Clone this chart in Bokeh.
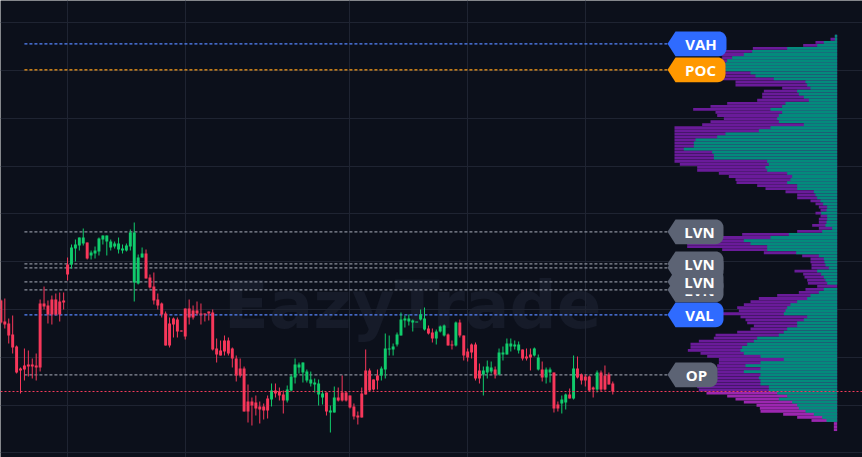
import numpy as np
from bokeh.plotting import figure
from bokeh.models import Range1d, FixedTicker, Span
from bokeh.core.properties import value
from bokeh.embed import file_html
from bokeh.resources import INLINE

W, H = 862, 457

# ---------------- data ----------------
open_ = [115.7, 113.6, 113.4, 112.3, 111.1, 108.9, 109.2, 109.3, 109.3, 109.2,
         115.4, 115.4, 115.2, 115.8, 115.8, 115.6, 115.7, 119.3, 119.3, 120.9,
         121.2, 121.4, 121.5, 120.2, 120.4, 120.6, 121.8, 121.6, 121.0, 121.1,
         120.8, 120.7, 120.7, 121.1, 117.5, 117.4, 120.0, 120.4, 118.0, 117.1,
         115.8, 115.4, 114.4, 113.4, 113.9, 113.8, 112.7, 114.9, 114.9, 114.7,
         114.7, 114.4, 114.4, 114.6, 114.5, 110.9, 110.7, 111.7, 111.7, 110.9,
         109.9, 108.9, 108.9, 105.6, 105.6, 105.5, 105.1, 105.1, 105.9, 105.8,
         106.7, 106.6, 106.3, 105.7, 106.7, 108.0, 109.0, 108.5, 107.7, 107.4,
         107.3, 106.3, 106.0, 106.5, 104.5, 104.5, 106.0, 106.5, 106.5, 106.2,
         105.1, 104.2, 106.4, 108.7, 108.7, 107.8, 108.2, 108.2, 108.8, 110.8,
         110.8, 111.3, 112.2, 113.7, 113.6, 113.5, 113.6, 113.8, 112.8, 112.9,
         112.5, 111.9, 112.6, 112.2, 112.3, 111.3, 111.2, 113.5, 112.2, 110.6,
         111.3, 111.3, 108.7, 108.3, 108.5, 108.6, 108.8, 108.3, 110.3, 110.3,
         111.1, 111.1, 110.7, 110.8, 110.1, 110.3, 110.2, 108.8, 108.8, 108.0,
         108.5, 108.5, 105.3, 105.4, 105.5, 106.3, 105.9, 108.9, 108.3, 108.1,
         108.1, 107.0, 106.8, 108.5, 108.2, 108.3, 107.4]
high = [115.8, 115.9, 113.9, 114.2, 111.2, 109.0, 110.9, 110.7, 109.9, 110.4,
        115.8, 117.1, 115.7, 116.2, 116.4, 116.5, 116.5, 120.0, 121.3, 121.8,
        122.0, 122.9, 121.5, 120.7, 121.1, 122.0, 122.2, 122.2, 121.8, 121.6,
        122.0, 121.3, 121.4, 122.8, 123.5, 120.3, 121.0, 120.8, 118.3, 118.5,
        116.4, 115.5, 114.6, 114.0, 114.0, 114.0, 112.7, 114.9, 115.8, 115.2,
        115.6, 115.4, 114.4, 114.6, 114.8, 111.9, 111.7, 112.2, 112.0, 111.0,
        110.2, 109.9, 109.1, 107.3, 106.0, 106.2, 105.6, 105.4, 106.2, 107.4,
        107.4, 107.0, 106.7, 107.2, 108.3, 109.9, 109.5, 109.5, 108.8, 108.6,
        107.9, 107.8, 106.7, 106.5, 105.2, 107.1, 107.0, 108.2, 106.6, 106.2,
        105.4, 104.6, 107.0, 110.8, 108.9, 107.8, 108.8, 109.1, 112.4, 112.2,
        111.4, 112.5, 114.5, 114.2, 114.3, 113.8, 113.6, 114.8, 115.0, 113.2,
        112.9, 112.8, 113.2, 113.3, 112.4, 111.7, 113.6, 113.8, 112.2, 110.9,
        111.4, 111.5, 109.4, 109.1, 109.7, 109.6, 109.1, 110.9, 111.1, 111.9,
        111.9, 111.7, 111.6, 110.8, 110.9, 110.9, 111.0, 110.3, 109.6, 109.0,
        109.0, 108.5, 105.6, 106.2, 106.4, 106.9, 110.2, 110.1, 108.4, 108.3,
        108.2, 107.1, 108.7, 108.7, 109.2, 108.5, 107.6]
low = [113.4, 112.9, 111.4, 110.4, 108.4, 106.4, 107.7, 108.1, 107.9, 107.7,
       108.6, 114.8, 113.4, 113.3, 114.2, 113.6, 114.8, 117.7, 118.9, 119.6,
       120.7, 121.2, 119.8, 119.8, 119.9, 120.2, 121.3, 120.2, 120.7, 120.9,
       120.4, 120.4, 120.6, 120.7, 115.6, 117.3, 120.0, 117.9, 116.9, 115.3,
       114.8, 114.0, 111.2, 111.0, 112.0, 112.0, 112.6, 111.8, 113.3, 113.8,
       114.2, 113.3, 113.6, 113.7, 110.7, 109.5, 110.2, 110.2, 110.2, 109.0,
       107.6, 108.0, 104.6, 103.5, 103.2, 104.2, 103.4, 103.8, 103.9, 105.1,
       106.0, 105.7, 104.4, 105.5, 106.6, 107.4, 108.4, 107.5, 107.5, 107.1,
       106.5, 105.2, 105.3, 104.2, 102.5, 104.5, 105.6, 105.6, 105.6, 104.9,
       103.8, 103.3, 104.0, 106.3, 106.6, 106.7, 106.8, 107.7, 107.9, 110.2,
       110.2, 111.1, 112.2, 113.0, 113.2, 112.6, 113.6, 113.7, 112.7, 112.3,
       111.5, 111.3, 112.5, 112.1, 111.2, 110.8, 111.1, 112.0, 109.7, 109.6,
       109.9, 107.7, 107.4, 106.2, 107.9, 108.4, 107.9, 108.2, 109.7, 110.3,
       110.6, 110.8, 110.4, 109.7, 109.7, 108.7, 110.1, 108.7, 107.6, 107.4,
       107.5, 104.5, 104.6, 104.4, 104.8, 105.9, 105.8, 107.9, 107.3, 107.1,
       106.6, 106.0, 106.5, 106.6, 106.7, 107.3, 106.3]
close = [113.5, 113.3, 112.2, 111.0, 108.5, 108.7, 108.8, 109.1, 109.1, 109.0,
         109.0, 115.1, 114.3, 114.3, 114.3, 114.3, 115.5, 118.3, 121.0, 121.3,
         122.0, 122.0, 119.9, 120.5, 120.7, 121.9, 122.2, 122.2, 121.6, 121.4,
         121.4, 120.9, 121.2, 122.5, 122.5, 120.0, 120.4, 117.9, 117.0, 115.7,
         115.2, 114.3, 111.2, 111.2, 113.3, 112.6, 112.6, 112.1, 114.0, 114.0,
         114.4, 114.3, 114.3, 114.4, 110.8, 110.3, 110.2, 110.6, 110.4, 109.9,
         108.2, 108.2, 104.6, 104.6, 105.2, 104.9, 104.8, 104.7, 104.7, 106.7,
         106.4, 106.2, 105.7, 106.8, 108.1, 109.3, 109.3, 109.5, 108.6, 107.8,
         107.5, 107.4, 106.4, 104.6, 104.7, 106.0, 105.7, 105.7, 105.7, 105.0,
         104.1, 104.0, 104.0, 106.3, 106.7, 106.8, 107.7, 108.9, 110.9, 110.9,
         111.1, 112.3, 113.8, 113.9, 113.9, 113.7, 113.6, 114.3, 113.9, 112.4,
         111.9, 112.6, 113.1, 113.2, 111.2, 111.2, 113.5, 112.2, 110.2, 110.0,
         110.5, 107.9, 107.9, 108.7, 109.1, 109.0, 108.3, 110.5, 110.5, 111.4,
         111.4, 111.3, 111.3, 109.9, 109.9, 110.0, 110.9, 110.0, 108.0, 108.8,
         108.8, 104.9, 104.9, 105.8, 106.3, 105.9, 108.9, 108.0, 107.7, 107.7,
         106.7, 106.8, 108.5, 106.8, 106.8, 107.3, 106.6]

# session separators (candle index) and price grid levels
time_grid = [17, 47, 89, 119, 149]
price_grid = [100.47, 105.25, 110.03, 114.80, 119.58, 124.36, 129.14, 133.92, 138.69, 143.47]

# volume profile (top row first): total volume and buy volume per price bin
profile_top = 142.13
profile_step = 0.305
profile_total = [7, 20, 65, 102, 253, 345, 350, 345, 350, 360,
                 360, 360, 340, 335, 480, 305, 305, 165, 220, 225,
                 225, 240, 330, 380, 432, 365, 360, 340, 380, 405,
                 488, 488, 488, 488, 488, 488, 488, 488, 488, 488,
                 488, 488, 472, 420, 420, 355, 325, 305, 302, 240,
                 215, 155, 120, 120, 80, 65, 55, 50, 65, 50,
                 55, 55, 75, 55, 120, 285, 350, 480, 450, 450,
                 345, 220, 105, 80, 80, 77, 77, 128, 102, 98,
                 90, 88, 60, 95, 115, 180, 235, 260, 280, 300,
                 295, 350, 290, 275, 270, 250, 260, 300, 365, 370,
                 415, 440, 440, 448, 410, 390, 355, 355, 360, 360,
                 360, 360, 380, 375, 410, 420, 415, 392, 330, 305,
                 280, 242, 232, 230, 162, 120, 77, 10, 10, 10]
profile_buy = [7, 7, 40, 60, 150, 255, 280, 315, 330, 335,
               335, 335, 260, 245, 190, 95, 90, 80, 120, 115,
               100, 85, 155, 165, 200, 165, 175, 180, 175, 100,
               200, 235, 335, 360, 425, 430, 430, 460, 375, 370,
               370, 210, 205, 215, 210, 150, 135, 140, 150, 120,
               120, 70, 65, 60, 50, 42, 30, 32, 48, 30,
               30, 32, 35, 15, 45, 145, 200, 280, 260, 210,
               210, 123, 55, 40, 38, 35, 25, 60, 48, 40,
               35, 30, 0, 40, 55, 80, 90, 120, 140, 150,
               155, 160, 90, 100, 120, 120, 150, 160, 175, 240,
               250, 270, 285, 290, 280, 230, 160, 230, 275, 230,
               280, 230, 235, 230, 230, 205, 205, 180, 150, 175,
               135, 120, 115, 95, 70, 45, 32, 0, 0, 0]

# key levels (drawing order = stacking order)
level_names = ["VAH", "POC", "LVN", "OP", "VAL", "LVN", "LVN", "LVN", "LVN"]
level_prices = [141.37, 138.77, 122.57, 108.27, 114.27, 118.97, 116.77, 117.57, 119.37]
level_kinds = ["va", "poc", "lvn", "op", "va", "lvn", "lvn", "lvn", "lvn"]

# ---------------- style ----------------
BG = "#0c101b"
GRID = "#1f2432"
UP = "#10cc6c"
DOWN = "#f7375a"
TEAL = "#038b7c"
PURPLE = "#6a1b9a"
MAGENTA = "#9c27b0"
TAG_FILL = {"va": "#2f6bff", "poc": "#ff9800", "lvn": "#5c6374", "op": "#5c6374"}
LINE_COL = {"va": "#5585ff", "poc": "#ffa01a", "lvn": "#8a8f9c", "op": "#8a8f9c"}
TAG_RIGHT = {"VAH": 332, "POC": 335, "LVN": 341, "VAL": 341, "OP": 359}

p = figure(width=W, height=H, x_range=Range1d(-0.1, 219.66), y_range=Range1d(100.0, 145.7),
           output_backend="svg", toolbar_location=None, min_border=0,
           x_axis_location=None, y_axis_location=None,
           background_fill_color=BG, border_fill_color=BG, outline_line_color=None)
p.extra_x_ranges = {"vol": Range1d(start=2510, end=-76)}
p.xgrid.ticker = FixedTicker(ticks=time_grid)
p.ygrid.ticker = FixedTicker(ticks=price_grid)
p.grid.grid_line_color = GRID
p.grid.grid_line_width = 1

# watermark
p.text(x=[56.8], y=[115.2], text=["EazyTrade"], text_font=value("DejaVu Sans"),
       text_font_style="bold", text_font_size="66px", text_color="#161b29",
       text_baseline="alphabetic", text_align="left", level="image")

# key level dashed lines
for name, price, kind in zip(level_names, level_prices, level_kinds):
    p.segment(x0=[6.0], x1=[169.9], y0=[price], y1=[price], line_color=LINE_COL[kind],
              line_width=1.2, line_dash="3 2")

# candles
o = np.array(open_); c = np.array(close); hi = np.array(high); lo = np.array(low)
idx = np.arange(len(o))
cols = np.where(c >= o, UP, DOWN)
top = np.maximum(o, c)
bot = np.minimum(o, c)
bot = np.where(top - bot < 0.1, top - 0.1, bot)
p.segment(x0=idx, x1=idx, y0=lo, y1=hi, line_color=cols, line_width=1)
p.vbar(x=idx, width=0.75, top=top, bottom=bot, fill_color=cols, line_color=None)

# volume profile
tot = np.array(profile_total, dtype=float)
buy = np.array(profile_buy, dtype=float)
centers = profile_top - profile_step * np.arange(len(tot))
last = close[-1]
pcols = np.where(centers < last, MAGENTA, PURPLE)
p.hbar(y=centers, left=0, right=tot, height=profile_step * 0.92, fill_color=pcols,
       line_color=None, x_range_name="vol")
p.hbar(y=centers, left=0, right=buy, height=profile_step * 0.92, fill_color=TEAL,
       line_color=None, x_range_name="vol")

# current price line
p.add_layout(Span(location=last, dimension="width", line_color="#f23a5a",
                  line_dash="2 2", line_width=1.2))

# tags
TIP, SHOULDER, HALF, RX, RY = 509.0, 485.0, 1.24, 24.0, 0.8
ang1 = np.linspace(np.pi / 2, 0, 8)
ang2 = np.linspace(0, -np.pi / 2, 8)
for name, price, kind in zip(level_names, level_prices, level_kinds):
    r = TAG_RIGHT[name]
    xs = [TIP, SHOULDER]
    ys = [price, price + HALF]
    xs += list((r + RX) - RX * np.cos(ang1)); ys += list((price + HALF - RY) + RY * np.sin(ang1))
    xs += list((r + RX) - RX * np.cos(ang2)); ys += list((price - HALF + RY) + RY * np.sin(ang2))
    xs += [SHOULDER]; ys += [price - HALF]
    p.patch(x=xs, y=ys, fill_color=TAG_FILL[kind], line_color=None, x_range_name="vol")
    p.text(x=[(SHOULDER + r) / 2], y=[price - 0.05], text=[name], text_align="center",
           text_baseline="middle", text_color="white", text_font=value("Open Sans"),
           text_font_style="bold", text_font_size="15px", x_range_name="vol")

open("out.html", "w").write(file_html(p, INLINE))
